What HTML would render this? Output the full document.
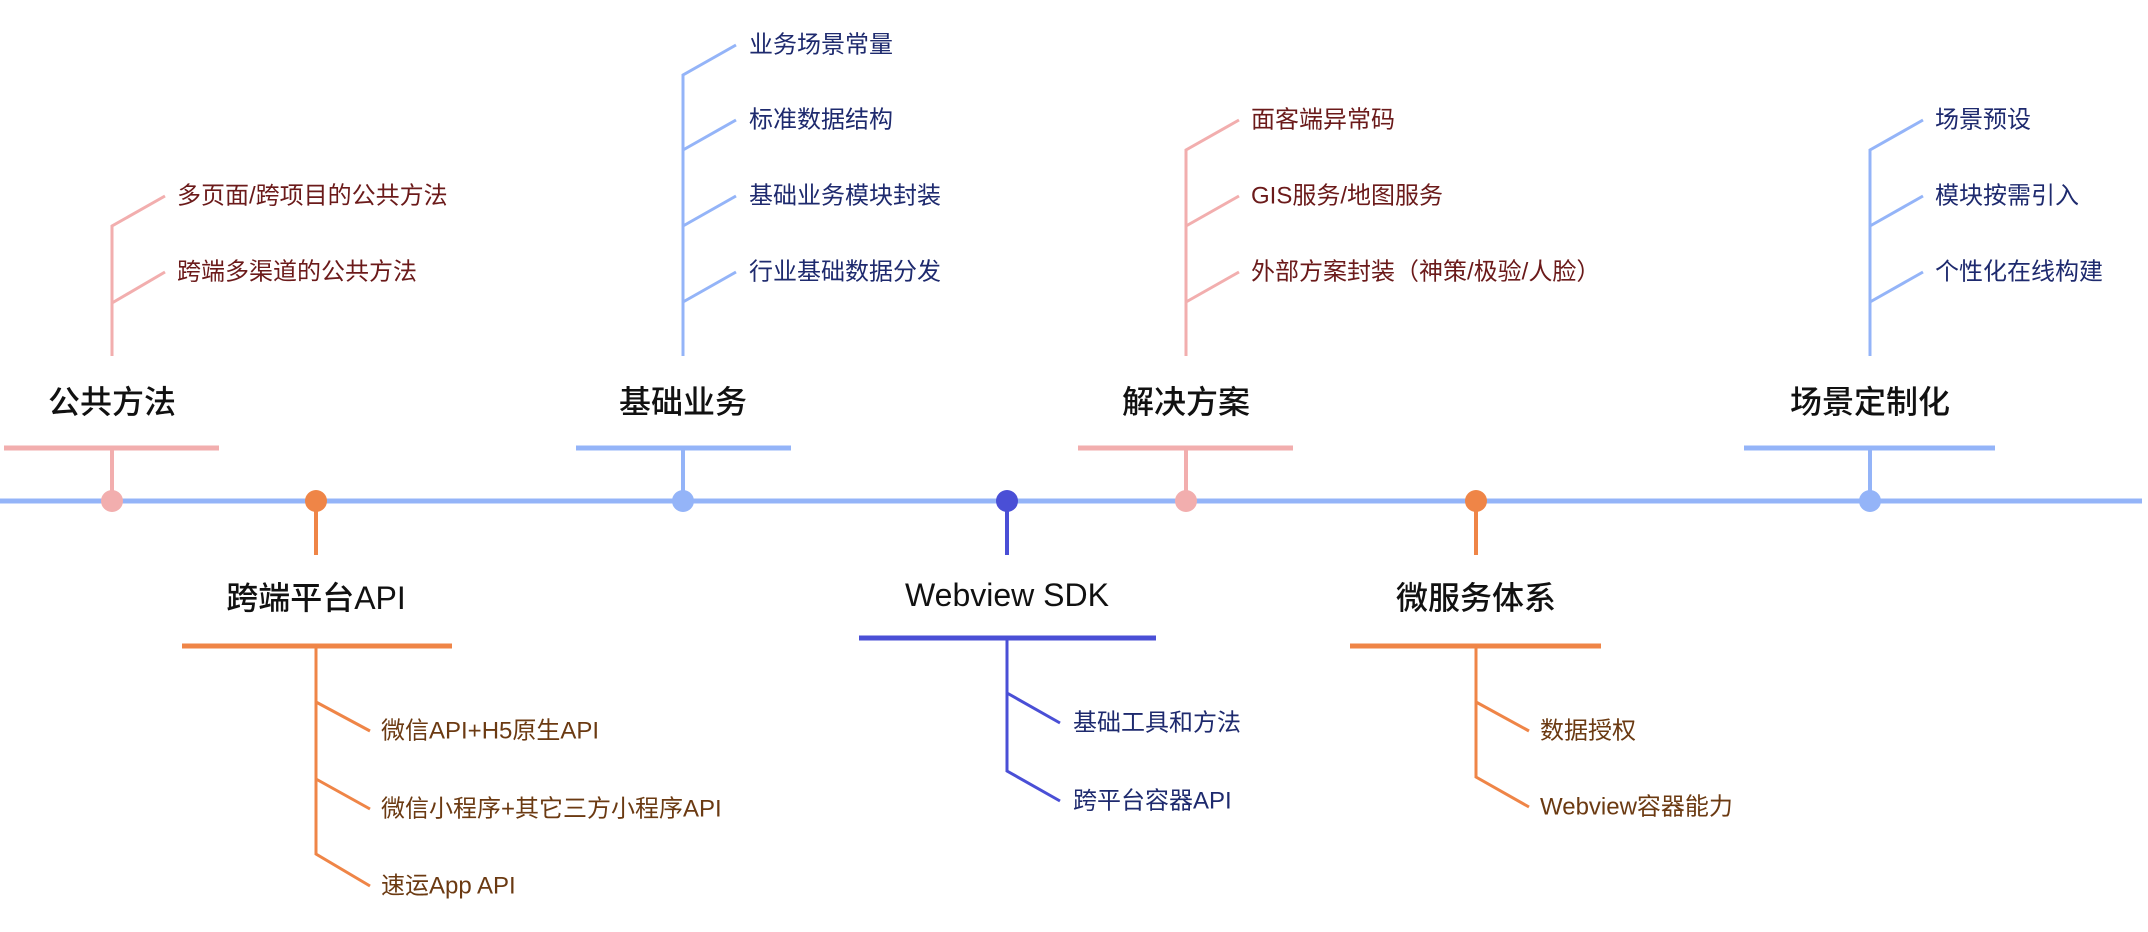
<!DOCTYPE html>
<html><head><meta charset="utf-8"><style>
html,body{margin:0;padding:0;background:#fff;}
svg{display:block;}
text{font-family:"Liberation Sans","Noto Sans CJK SC",sans-serif;}
.t{font-size:32px;font-weight:500;fill:#111;text-anchor:middle;dominant-baseline:central;}
.i{font-size:24px;dominant-baseline:central;}
</style></head><body>
<svg width="2148" height="932" viewBox="0 0 2148 932" xmlns="http://www.w3.org/2000/svg">
<line x1="0" y1="501" x2="2142" y2="501" stroke="#94b4f8" stroke-width="5"/>

<!-- 公共方法 -->
<g stroke="#f2aeae" fill="none">
<line x1="4" y1="448" x2="219" y2="448" stroke-width="5"/>
<line x1="112" y1="448" x2="112" y2="501" stroke-width="4"/>
<polyline points="112,356 112,226 165,196" stroke-width="3"/>
<polyline points="112,303 165,272" stroke-width="3"/>
</g>
<circle cx="112" cy="501" r="11" fill="#f2aeae"/>
<text class="t" x="112" y="402">公共方法</text>
<g class="i" fill="#6b1a1a"><text class="i" x="177" y="196">多页面/跨项目的公共方法</text><text class="i" x="177" y="272">跨端多渠道的公共方法</text></g>

<!-- 基础业务 -->
<g stroke="#94b4f8" fill="none">
<line x1="576" y1="448" x2="791" y2="448" stroke-width="5"/>
<line x1="683" y1="448" x2="683" y2="501" stroke-width="4"/>
<polyline points="683,356 683,75 736,45" stroke-width="3"/>
<polyline points="683,150 736,120" stroke-width="3"/>
<polyline points="683,226 736,196" stroke-width="3"/>
<polyline points="683,302 736,272" stroke-width="3"/>
</g>
<circle cx="683" cy="501" r="11" fill="#94b4f8"/>
<text class="t" x="683" y="402">基础业务</text>
<g fill="#1e2a6e"><text class="i" x="749" y="45">业务场景常量</text><text class="i" x="749" y="120">标准数据结构</text><text class="i" x="749" y="196">基础业务模块封装</text><text class="i" x="749" y="272">行业基础数据分发</text></g>

<!-- 解决方案 -->
<g stroke="#f2aeae" fill="none">
<line x1="1078" y1="448" x2="1293" y2="448" stroke-width="5"/>
<line x1="1186" y1="448" x2="1186" y2="501" stroke-width="4"/>
<polyline points="1186,356 1186,150 1239,120" stroke-width="3"/>
<polyline points="1186,226 1239,196" stroke-width="3"/>
<polyline points="1186,302 1239,272" stroke-width="3"/>
</g>
<circle cx="1186" cy="501" r="11" fill="#f2aeae"/>
<text class="t" x="1186" y="402">解决方案</text>
<g fill="#6b1a1a"><text class="i" x="1251" y="120">面客端异常码</text><text class="i" x="1251" y="196">GIS服务/地图服务</text><text class="i" x="1251" y="272">外部方案封装（神策/极验/人脸）</text></g>

<!-- 场景定制化 -->
<g stroke="#94b4f8" fill="none">
<line x1="1744" y1="448" x2="1995" y2="448" stroke-width="5"/>
<line x1="1870" y1="448" x2="1870" y2="501" stroke-width="4"/>
<polyline points="1870,356 1870,150 1923,120" stroke-width="3"/>
<polyline points="1870,226 1923,196" stroke-width="3"/>
<polyline points="1870,302 1923,272" stroke-width="3"/>
</g>
<circle cx="1870" cy="501" r="11" fill="#94b4f8"/>
<text class="t" x="1870" y="402">场景定制化</text>
<g fill="#1e2a6e"><text class="i" x="1935" y="120">场景预设</text><text class="i" x="1935" y="196">模块按需引入</text><text class="i" x="1935" y="272">个性化在线构建</text></g>

<!-- 跨端平台API -->
<g stroke="#ef8547" fill="none">
<line x1="182" y1="646" x2="452" y2="646" stroke-width="5"/>
<line x1="316" y1="501" x2="316" y2="555" stroke-width="4"/>
<polyline points="316,646 316,854 370,886" stroke-width="3"/>
<polyline points="316,702 370,731" stroke-width="3"/>
<polyline points="316,779 370,809" stroke-width="3"/>
</g>
<circle cx="316" cy="501" r="11" fill="#ef8547"/>
<text class="t" x="316" y="598">跨端平台API</text>
<g fill="#6b3a12"><text class="i" x="381" y="731">微信API+H5原生API</text><text class="i" x="381" y="809">微信小程序+其它三方小程序API</text><text class="i" x="381" y="886">速运App API</text></g>

<!-- Webview SDK -->
<g stroke="#4a4fd6" fill="none">
<line x1="859" y1="638" x2="1156" y2="638" stroke-width="5"/>
<line x1="1007" y1="501" x2="1007" y2="555" stroke-width="4"/>
<polyline points="1007,638 1007,771 1060,801" stroke-width="3"/>
<polyline points="1007,693 1060,723" stroke-width="3"/>
</g>
<circle cx="1007" cy="501" r="11" fill="#4a4fd6"/>
<text class="t" x="1007" y="595">Webview SDK</text>
<g fill="#1e2a6e"><text class="i" x="1073" y="723">基础工具和方法</text><text class="i" x="1073" y="801">跨平台容器API</text></g>

<!-- 微服务体系 -->
<g stroke="#ef8547" fill="none">
<line x1="1350" y1="646" x2="1601" y2="646" stroke-width="5"/>
<line x1="1476" y1="501" x2="1476" y2="555" stroke-width="4"/>
<polyline points="1476,646 1476,777 1529,807" stroke-width="3"/>
<polyline points="1476,702 1529,731" stroke-width="3"/>
</g>
<circle cx="1476" cy="501" r="11" fill="#ef8547"/>
<text class="t" x="1476" y="598">微服务体系</text>
<g fill="#6b3a12"><text class="i" x="1540" y="731">数据授权</text><text class="i" x="1540" y="807">Webview容器能力</text></g>
</svg>
</body></html>
